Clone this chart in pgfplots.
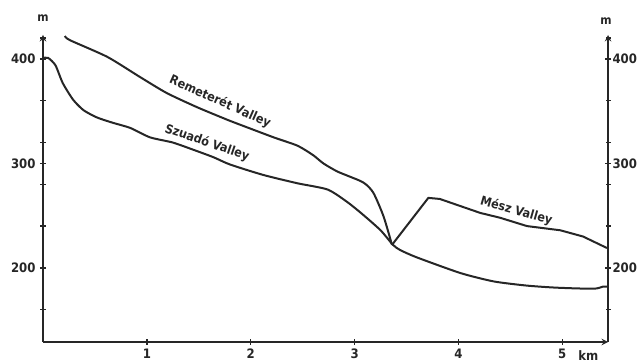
\documentclass[border=0pt]{standalone}
\usepackage{fontspec}
\setmainfont{DejaVu Sans Condensed}[BoldFont={DejaVu Sans Condensed Bold}]
\usepackage{pgfplots}
\pgfplotsset{compat=1.18}
\pgfplotsset{
  common/.style={
    scale only axis, width=565pt, height=307pt,
    xmin=0, xmax=5.44, ymin=129, ymax=423,
    axis line style={-, line width=1.8pt, black!85},
    ytick={200,300,400},
    extra y ticks={160,240,280,320,360,420}, extra y tick labels={},
    tick align=outside, major tick length=6pt,
    every tick/.style={line width=1.4pt, black!85},
    extra tick style={major tick length=5pt},
    ticklabel style={font=\bfseries\fontsize{13}{13}\selectfont, text=black!85},
    /pgf/number format/assume math mode=true,
  }
}
\begin{document}
\begin{tikzpicture}
\path[use as bounding box] (-43pt,-21pt) rectangle (596pt,342pt);
\begin{axis}[common,
  axis x line=bottom, axis y line=left,
  xtick={1,2,3,4,5},
  yticklabel style={xshift=-1pt},
  clip=false,
]
% Szuado Valley
\addplot[line width=2pt, black!85, smooth, tension=0.4] coordinates {
(0.00,401) (0.05,401) (0.12,394) (0.19,377) (0.29,361) (0.39,351)
(0.52,344) (0.67,339) (0.84,334) (1.03,325) (1.25,320) (1.45,313) (1.64,306)
(1.80,299) (2.12,289) (2.45,281) (2.74,275) (2.93,263) (3.08,251) (3.25,236)
(3.37,222) (3.44,217) (3.60,210) (4.02,195) (4.34,187) (4.66,183) (4.95,181)
(5.30,180) (5.39,182) (5.44,182)};
% Remeteret Valley
\addplot[line width=2pt, black!85, smooth, tension=0.4] coordinates {
(0.21,422) (0.26,418) (0.62,402) (0.93,383) (1.19,367.5) (1.48,354) (1.77,342)
(1.90,337) (2.22,325) (2.45,317) (2.60,308) (2.70,300) (2.84,292)
(3.08,282) (3.18,272) (3.28,249) (3.36,222)};
% Mesz Valley
\addplot[line width=2pt, black!85] coordinates {
(3.36,222) (3.71,267) (3.82,266) (4.21,252.6) (4.40,248) (4.66,240) (4.98,236)
(5.20,230) (5.43,219)};
\node[rotate=-24, font=\bfseries\fontsize{12.5}{12.5}\selectfont, text=black!85] at (axis cs:1.705,359) {Remeterét Valley};
\node[rotate=-19, font=\bfseries\fontsize{12.5}{12.5}\selectfont, text=black!85] at (axis cs:1.58,319.6) {Szuadó Valley};
\node[rotate=-16, font=\bfseries\fontsize{12.5}{12.5}\selectfont, text=black!85] at (axis cs:4.557,254.5) {Mész Valley};
\node[font=\bfseries\fontsize{12}{12}\selectfont, text=black!85, anchor=south] at ([yshift=10pt]rel axis cs:0,1) {m};
\node[font=\bfseries\fontsize{12}{12}\selectfont, text=black!85, anchor=south] at ([xshift=-2pt,yshift=7pt]rel axis cs:1,1) {m};
\node[font=\bfseries\fontsize{13}{13}\selectfont, text=black!85] at ([yshift=-14pt]axis cs:5.25,129) {km};
\end{axis}
\begin{axis}[common,
  axis x line=none, axis y line=right,
  yticklabel pos=right,
  yticklabel style={xshift=-2pt},
]
\addplot[draw=none] coordinates {(1,200)};
\end{axis}
\end{tikzpicture}
\end{document}
